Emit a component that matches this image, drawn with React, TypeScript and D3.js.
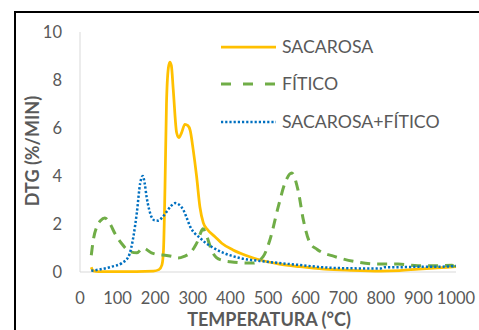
import React from "react";
import * as d3 from "d3";

const xTicks = [0, 100, 200, 300, 400, 500, 600, 700, 800, 900, 1000];
const yTicks = [0, 2, 4, 6, 8, 10];

const sacarosaT = [30, 35, 50, 100, 150, 195, 210, 218, 222, 226, 230, 235, 239, 243, 248, 257, 263, 270, 279, 287, 293, 301, 310, 319, 328, 340, 359, 377, 407, 440, 479, 530, 585, 650, 720, 800, 850, 900, 950, 1000];
const sacarosaV = [0.2, 0.05, 0.02, 0.02, 0.02, 0.04, 0.1, 0.3, 0.9, 3.5, 7.0, 8.5, 8.75, 8.6, 7.6, 5.8, 5.6, 5.8, 6.15, 6.1, 5.9, 5.1, 4.0, 2.7, 2.05, 1.75, 1.47, 1.2, 0.92, 0.7, 0.5, 0.33, 0.22, 0.12, 0.07, 0.04, 0.06, 0.12, 0.17, 0.22];

const fiticoT = [30, 35, 45, 55, 66, 80, 93, 110, 133, 151, 168, 190, 210, 226, 245, 261, 277, 293, 305, 314, 320, 327, 337, 350, 363, 380, 399, 430, 460, 487, 505, 527, 545, 563, 580, 594, 612, 630, 646, 670, 691, 737, 793, 846, 899, 949, 990, 1000];
const fiticoV = [0.7, 1.3, 1.9, 2.15, 2.25, 2.0, 1.6, 1.2, 0.85, 0.8, 1.0, 0.8, 0.72, 0.7, 0.65, 0.58, 0.65, 0.8, 1.05, 1.33, 1.6, 1.8, 1.5, 0.9, 0.6, 0.48, 0.43, 0.38, 0.37, 0.64, 1.33, 2.7, 3.7, 4.12, 3.4, 2.17, 1.2, 0.95, 0.8, 0.68, 0.58, 0.42, 0.33, 0.33, 0.26, 0.26, 0.28, 0.05];

const mezclaT = [30, 50, 84, 111, 129, 142, 151, 160, 167, 172, 177, 184, 190, 199, 208, 220, 230, 242, 253, 264, 275, 284, 293, 306, 319, 335, 350, 381, 426, 497, 585, 674, 750, 800, 811, 850, 900, 950, 1000];
const mezclaV = [0.05, 0.1, 0.22, 0.37, 0.64, 1.47, 2.45, 3.7, 4.0, 3.7, 3.14, 2.6, 2.3, 2.15, 2.14, 2.3, 2.5, 2.75, 2.87, 2.8, 2.58, 2.25, 1.89, 1.6, 1.42, 1.2, 1.05, 0.8, 0.58, 0.43, 0.29, 0.17, 0.15, 0.15, 0.2, 0.2, 0.22, 0.22, 0.25];

const seriesNames = ["SACAROSA", "FÍTICO", "SACAROSA+FÍTICO"];

const W = 479;
const H = 330;
const left = 80, right = 456, top = 32, bottom = 272;
const FONT = "Lato, Carlito, Calibri, sans-serif";
const TXT = "#595959";

export default function App() {
  const x = d3.scaleLinear().domain([0, 1000]).range([left, right]);
  const y = d3.scaleLinear().domain([0, 10]).range([bottom, top]);
  const line = d3
    .line<[number, number]>()
    .x((d) => x(d[0]))
    .y((d) => y(d[1]))
    .curve(d3.curveMonotoneX);
  const zip = (t: number[], v: number[]) => t.map((tt, i) => [tt, v[i]] as [number, number]);

  const series = [
    { name: seriesNames[0], data: zip(sacarosaT, sacarosaV), color: "#FFC000", width: 2.75, dash: undefined as string | undefined, lg: undefined as string | undefined },
    { name: seriesNames[1], data: zip(fiticoT, fiticoV), color: "#70AD47", width: 3, dash: "10 7", lg: "10 12" },
    { name: seriesNames[2], data: zip(mezclaT, mezclaV), color: "#0070C0", width: 2.5, dash: "2.2 2", lg: "2.2 2" },
  ];
  const legendY = [47, 84, 122];

  return (
    <svg width={W} height={H} style={{ position: "absolute", left: 0, top: 0, background: "#fff" }}>
      <rect x={15} y={12} width={600} height={400} fill="#fff" stroke="#000" strokeWidth={2} />
      <line x1={left} x2={left} y1={top} y2={bottom} stroke="#D9D9D9" strokeWidth={1} />
      <line x1={left} x2={right} y1={bottom} y2={bottom} stroke="#D9D9D9" strokeWidth={1} />
      {yTicks.map((t) => (
        <text key={t} x={62} y={y(t)} dy="0.35em" textAnchor="end" fontFamily={FONT} fontSize={16.5} fill={TXT}>
          {t}
        </text>
      ))}
      {xTicks.map((t) => (
        <text key={t} x={x(t)} y={298} dy="0.35em" textAnchor="middle" fontFamily={FONT} fontSize={16.5} fill={TXT}>
          {t}
        </text>
      ))}
      <text x={269} y={320} dy="0.35em" textAnchor="middle" fontFamily={FONT} fontSize={18} fontWeight="bold" fill={TXT}>
        TEMPERATURA (°C)
      </text>
      <text
        transform={`translate(33,151) rotate(-90)`}
        dy="0.35em"
        textAnchor="middle"
        fontFamily={FONT}
        fontSize={18}
        fontWeight="bold"
        fill={TXT}
      >
        DTG (%/MIN)
      </text>
      {series.map((s) => (
        <path
          key={s.name}
          d={line(s.data) || ""}
          fill="none"
          stroke={s.color}
          strokeWidth={s.width}
          strokeDasharray={s.dash}
          strokeLinejoin="round"
        />
      ))}
      {series.map((s, i) => (
        <g key={"lg" + s.name}>
          <line x1={221} x2={276} y1={legendY[i]} y2={legendY[i]} stroke={s.color} strokeWidth={s.width} strokeDasharray={s.lg} />
          <text x={282} y={legendY[i]} dy="0.35em" fontFamily={FONT} fontSize={17.7} fill={TXT}>
            {s.name}
          </text>
        </g>
      ))}
    </svg>
  );
}
